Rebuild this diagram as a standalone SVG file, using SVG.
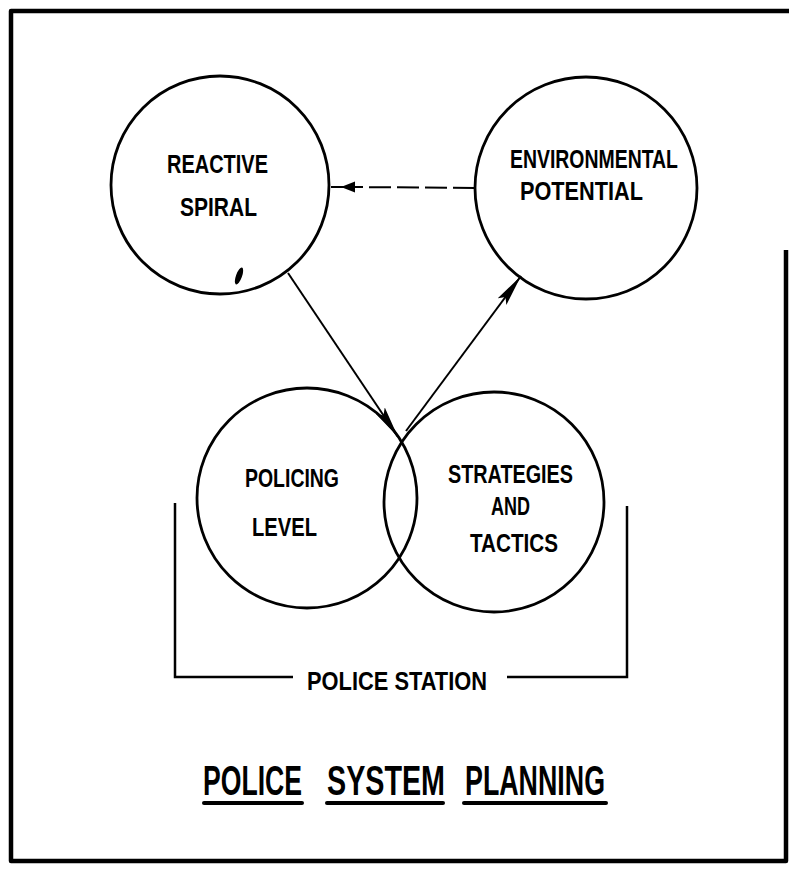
<svg xmlns="http://www.w3.org/2000/svg" width="789" height="869" viewBox="0 0 789 869">
<style>
.bg{fill:#fff}
.frame{fill:none;stroke:#000;stroke-width:4.5;stroke-linejoin:round}
.node{fill:none;stroke:#000;stroke-width:2.8}
.lbl{font-family:"Liberation Sans",Arial,sans-serif;font-weight:bold;font-size:26px;fill:#000}
.title{font-family:"Liberation Sans",Arial,sans-serif;font-weight:bold;font-size:42px;fill:#000}
.conn{fill:none;stroke:#000;stroke-width:2}
.dash{stroke-dasharray:22 6}
.br{fill:none;stroke:#000;stroke-width:2.5}
.ul{stroke:#000;stroke-width:4;stroke-linecap:round}
</style>
<defs>
<marker id="ah" markerUnits="userSpaceOnUse" markerWidth="32" markerHeight="12" refX="32" refY="6" orient="auto">
<path d="M0,0.5 L32,6 L0,11.5 L6,6 z" fill="#000"/>
</marker>
</defs>
<rect class="bg" x="0" y="0" width="789" height="869"/>
<path class="frame" d="M786,250 L786,861 L11,861 L11,11 L789,11"/>

<g id="reactive-spiral">
<circle class="node" cx="220" cy="185" r="109"/>
<text class="lbl" x="167" y="173" textLength="101" lengthAdjust="spacingAndGlyphs">REACTIVE</text>
<text class="lbl" x="180" y="216" textLength="77" lengthAdjust="spacingAndGlyphs">SPIRAL</text>
<ellipse cx="239" cy="276" rx="3" ry="9" transform="rotate(20 239 276)" fill="#000"/>
</g>

<g id="environmental-potential">
<circle class="node" cx="586" cy="188" r="111"/>
<text class="lbl" x="510" y="168" textLength="168" lengthAdjust="spacingAndGlyphs">ENVIRONMENTAL</text>
<text class="lbl" x="520" y="200" textLength="123" lengthAdjust="spacingAndGlyphs">POTENTIAL</text>
</g>

<g id="policing-level">
<circle class="node" cx="307" cy="498" r="110"/>
<text class="lbl" x="245" y="487" textLength="94" lengthAdjust="spacingAndGlyphs">POLICING</text>
<text class="lbl" x="252" y="536" textLength="65" lengthAdjust="spacingAndGlyphs">LEVEL</text>
</g>

<g id="strategies-tactics">
<circle class="node" cx="494" cy="502" r="110"/>
<text class="lbl" x="448" y="483" textLength="125" lengthAdjust="spacingAndGlyphs">STRATEGIES</text>
<text class="lbl" x="491" y="515" textLength="39" lengthAdjust="spacingAndGlyphs">AND</text>
<text class="lbl" x="470" y="552" textLength="88" lengthAdjust="spacingAndGlyphs">TACTICS</text>
</g>

<g id="police-station">
<path class="br" d="M175,503 L175,677 L293,677"/>
<path class="br" d="M507,677 L627,677 L627,506"/>
<text class="lbl" x="307" y="690" textLength="180" lengthAdjust="spacingAndGlyphs">POLICE STATION</text>
</g>

<g id="connectors">
<path class="conn dash" d="M475,188 L353,187"/>
<path class="conn" d="M353,187 L331,187"/>
<polygon points="341,187 355,181.5 355,192.5" fill="#000"/>
<path class="conn" d="M288,273 L398,437" marker-end="url(#ah)"/>
<path class="conn" d="M406,431 L521,276" marker-end="url(#ah)"/>
</g>

<g id="title">
<g transform="scale(0.65,1)">
<text class="title" x="312.3" y="795" textLength="152.3" lengthAdjust="spacingAndGlyphs">POLICE</text>
<text class="title" x="503.1" y="795" textLength="181.5" lengthAdjust="spacingAndGlyphs">SYSTEM</text>
<text class="title" x="715.4" y="795" textLength="215.4" lengthAdjust="spacingAndGlyphs">PLANNING</text>
</g>
<line class="ul" x1="204" y1="803" x2="302" y2="803"/>
<line class="ul" x1="327" y1="803" x2="443" y2="803"/>
<line class="ul" x1="464" y1="803" x2="606" y2="803"/>
</g>
</svg>
